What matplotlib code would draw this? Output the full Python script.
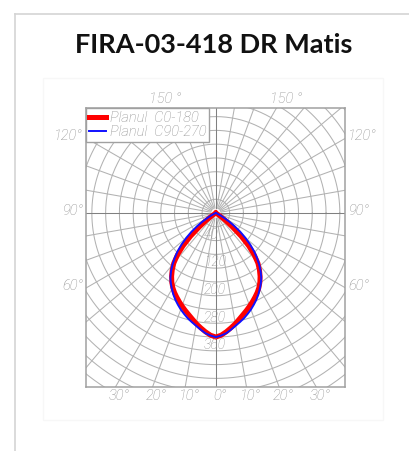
import numpy as np
import matplotlib
matplotlib.use("Agg")
import matplotlib.pyplot as plt
from matplotlib.lines import Line2D
from matplotlib.patches import Rectangle

# luminous intensity (cd), one half of each plane (symmetric)
angles = [0, 2.5, 5, 7.5, 10, 12.5, 15, 17.5, 20, 22.5, 25, 27.5, 30, 32.5, 35, 37.5,
          40, 42.5, 45, 47.5, 50, 52.5, 55, 57.5, 60, 62.5, 65, 67.5, 70, 75, 80, 85, 90]
c0_180 = [360, 355, 346, 336, 326, 315, 305, 296, 287, 278, 269, 260, 250, 238, 224, 208,
          190, 165, 135, 100, 62, 35, 15, 5, 2, 0, 0, 0, 0, 0, 0, 0, 0]
c90_270 = [360, 356, 350, 341, 332, 324, 316, 307, 298, 288, 278, 267, 255, 243, 230, 214,
           196, 177, 157, 135, 112, 89, 66, 46, 28, 16, 8, 4, 2, 0, 0, 0, 0]

ring_labels = [40, 120, 200, 280, 360]
side_angles = [120, 90, 60]
top_angles = [150]
bottom_angles = [-30, -20, -10, 0, 10, 20, 30]

title = "FIRA-03-418 DR Matis"
lbl_font = dict(family="Roboto", style="italic", weight="light", color="#8e8e8e")

x0, x1, y0, y1 = -377, 375, -505, 305
grid_c = "#b2b2b2"


def curve(vals):
    a = np.radians(np.array(angles, dtype=float))
    v = np.array(vals, dtype=float)
    a = np.concatenate([-a[::-1], a[1:]])
    v = np.concatenate([v[::-1], v[1:]])
    return v * np.sin(a), -v * np.cos(a)


fig = plt.figure(figsize=(4.10, 4.51), dpi=100)
ax = fig.add_axes([86 / 410, 64 / 451, 259 / 410, 279 / 451])
ax.set_xlim(x0, x1)
ax.set_ylim(y0, y1)
ax.set_xticks([])
ax.set_yticks([])
for s in ax.spines.values():
    s.set_color("#a0a0a0")
    s.set_linewidth(1.1)

# polar grid
t = np.linspace(0, 2 * np.pi, 361)
for r in range(40, 700, 40):
    ax.plot(r * np.cos(t), r * np.sin(t), color=grid_c, lw=0.75, zorder=1)
for a in range(0, 360, 10):
    ar = np.radians(a)
    c = "#808080" if a % 90 == 0 else grid_c
    ax.plot([15 * np.sin(ar), 800 * np.sin(ar)], [-15 * np.cos(ar), -800 * np.cos(ar)],
            color=c, lw=0.75, zorder=1)

# curves
bx, by = curve(c90_270)
rx, ry = curve(c0_180)
ax.plot(rx, ry, color="#ff0000", lw=3.6, zorder=3, label="Planul  C0-180",
        solid_joinstyle="round")
ax.plot(bx, by, color="#1010ff", lw=1.4, zorder=4, label="Planul  C90-270")

# intensity ring labels
for r in ring_labels:
    ax.annotate(str(r), (0, -r), xytext=(-12, -1), textcoords="offset pixels",
                ha="left", va="top", fontsize=10, zorder=5, **lbl_font)

# angle labels around the box
for a in side_angles:
    yv = -abs(x0) / np.tan(np.radians(a))
    ax.annotate(f"{a}°", (x0, yv), xytext=(-3, 2), textcoords="offset pixels",
                ha="right", va="center", fontsize=10.5, annotation_clip=False, **lbl_font)
    yv = -abs(x1) / np.tan(np.radians(a))
    ax.annotate(f"{a}°", (x1, yv), xytext=(3, 2), textcoords="offset pixels",
                ha="left", va="center", fontsize=10.5, annotation_clip=False, **lbl_font)
for a in top_angles:
    xv = y1 * np.tan(np.radians(180 - a))
    for sx in (-1, 1):
        ax.annotate(f"{a} °", (sx * xv, y1), xytext=(10, 2), textcoords="offset pixels",
                    ha="center", va="bottom", fontsize=10.5, annotation_clip=False, **lbl_font)
for a in bottom_angles:
    xv = abs(y0) * np.tan(np.radians(a))
    ax.annotate(f"{abs(a)}°", (xv, y0), xytext=(4, -2), textcoords="offset pixels",
                ha="center", va="top", fontsize=10.5, annotation_clip=False, **lbl_font)

leg = ax.legend(loc="upper left", borderaxespad=0, fancybox=False, framealpha=1,
                edgecolor="#a0a0a0", handlelength=1.2, handletextpad=0.25,
                borderpad=0.2, labelspacing=0.0,
                prop=dict(family="Roboto", style="italic", weight="light", size=10.5),
                labelcolor="#8e8e8e")
leg.get_frame().set_linewidth(1.0)
leg.set_zorder(6)

# page card and image frame
fig.add_artist(Line2D([15 / 410, 1], [1 - 14 / 451, 1 - 14 / 451], color="#d4d4d4", lw=1.2))
fig.add_artist(Line2D([15 / 410, 15 / 410], [0, 1 - 14 / 451], color="#d4d4d4", lw=1.2))
fig.add_artist(Rectangle((43 / 410, 1 - 420 / 451), 340 / 410, 342 / 451, fill=False,
                         edgecolor="#f7f7f7", lw=1.0, transform=fig.transFigure))

fig.text(213.5 / 410, 1 - 53 / 451, title, ha="center", va="baseline",
         fontsize=19.5, fontweight="bold", family="Lato", color="#111111")

fig.savefig("out.png", dpi=100)
